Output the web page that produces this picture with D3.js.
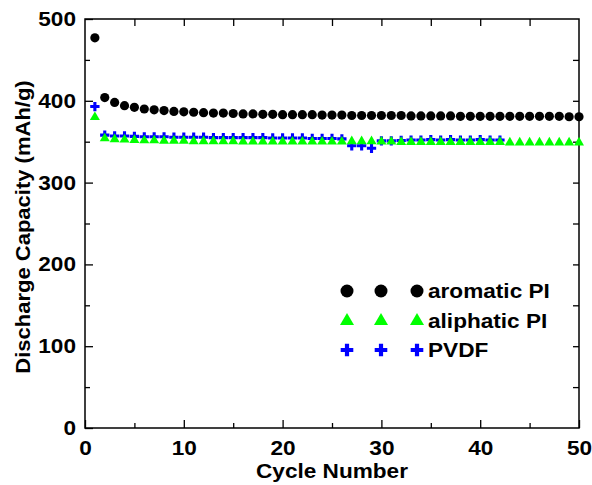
<!DOCTYPE html>
<html>
<head>
<meta charset="utf-8">
<script src="https://cdn.jsdelivr.net/npm/d3@7"></script>
<style>
  body { margin: 0; background: #fff; }
  text { font-family: "Liberation Sans", Arial, sans-serif; font-weight: bold; }
</style>
</head>
<body>
<svg id="chart" width="592" height="485"></svg>
<script>
// values
const aromatic = [477, 404, 398, 394, 392, 390, 389, 388, 387, 386.5,
  386, 385.5, 385, 385, 384.5, 384, 384, 383.5, 383.5, 383,
  383, 383, 383, 382.5, 382.5, 382.5, 382, 382, 382, 382,
  382, 382, 381.5, 381.5, 381.5, 381.5, 381.5, 381, 381, 381,
  381, 381, 381, 381, 381, 381, 381, 381, 380.5, 380.5];
const aliphatic = [380, 354, 353, 352.5, 352, 351.5, 351.5, 351, 351, 351,
  350.5, 350.5, 350.5, 350.5, 350.5, 350, 350, 350, 350, 350,
  350, 350, 350, 350, 350, 350, 350.5, 350.5, 350.5, 350,
  350, 349.5, 349.5, 349.5, 349.5, 349.5, 349.5, 349.5, 349.5, 349.5,
  349.5, 349.5, 349, 349, 349, 349, 349, 349, 349, 349];
const pvdf = [393, 358, 357, 357, 356.5, 356, 356, 356, 355.5, 355.5,
  355.5, 355.5, 355, 355, 355, 355, 355, 355, 354.5, 354.5,
  354.5, 354.5, 354, 354, 354, 353.5, 345, 345, 342, 351,
  351, 351.5, 352, 352, 352.5, 352, 352.5, 352, 352, 352.5,
  352, 352];
const seriesNames = ["aromatic PI", "aliphatic PI", "PVDF"];
const xTicks = [0, 10, 20, 30, 40, 50];
const yTicks = [0, 100, 200, 300, 400, 500];

const svg = d3.select("#chart");
const margin = {top: 19, right: 13, bottom: 57, left: 85};
const W = 592, H = 485;
const STRETCH = 1.13;
const fs = 20;

const x = d3.scaleLinear([0, 50], [margin.left, W - margin.right]);
const y = d3.scaleLinear([0, 500], [H - margin.bottom, margin.top]);

// widen text like the original; re-anchor at start so the position stays right
function widen(sel, stretch = STRETCH) {
  sel.each(function() {
    const t = d3.select(this);
    const len = this.getComputedTextLength();
    const target = len * stretch;
    const anchor = t.attr("text-anchor") || "start";
    const x0 = +(t.attr("x") || 0);
    let xs = x0;
    if (anchor === "middle") xs = x0 - target / 2;
    else if (anchor === "end") xs = x0 - target;
    t.attr("x", xs).attr("text-anchor", "start")
      .attr("textLength", target).attr("lengthAdjust", "spacingAndGlyphs");
  });
}

// minor ticks
svg.append("g").attr("transform", `translate(0,${y(0)})`)
  .call(d3.axisBottom(x).tickValues(d3.range(5, 50, 10)).tickSize(-5).tickFormat(""))
  .call(g => g.select(".domain").remove());
svg.append("g").attr("transform", `translate(0,${y(500)})`)
  .call(d3.axisTop(x).tickValues(d3.range(5, 50, 5)).tickSize(-7).tickFormat(""))
  .call(g => g.select(".domain").remove());
svg.append("g").attr("transform", `translate(${x(0)},0)`)
  .call(d3.axisLeft(y).tickValues(d3.range(50, 500, 100)).tickSize(-5).tickFormat(""))
  .call(g => g.select(".domain").remove());
svg.append("g").attr("transform", `translate(${x(50)},0)`)
  .call(d3.axisRight(y).tickValues(d3.range(50, 500, 50)).tickSize(-6).tickFormat(""))
  .call(g => g.select(".domain").remove());

// major axes
const gx = svg.append("g").attr("transform", `translate(0,${y(0)})`)
  .call(d3.axisBottom(x).tickValues(xTicks).tickSizeInner(-8).tickSizeOuter(0).tickPadding(13))
  .call(g => g.select(".domain").remove());
const gy = svg.append("g").attr("transform", `translate(${x(0)},0)`)
  .call(d3.axisLeft(y).tickValues(yTicks).tickSizeInner(-8).tickSizeOuter(0).tickPadding(9))
  .call(g => g.select(".domain").remove());
svg.selectAll(".tick line").attr("stroke", "#000").attr("stroke-width", 1.3);
gx.attr("text-anchor", null).selectAll("text").attr("text-anchor", "middle");
gy.attr("text-anchor", null).selectAll("text").attr("text-anchor", "end");
[gx, gy].forEach(g => g.attr("font-family", null).attr("font-size", null)
  .selectAll("text")
  .attr("font-size", fs).attr("fill", "#000")
  .call(widen));

// frame
svg.append("rect")
  .attr("x", x(0)).attr("y", y(500))
  .attr("width", x(50) - x(0)).attr("height", y(0) - y(500))
  .attr("fill", "none").attr("stroke", "#000").attr("stroke-width", 1.5);

// axis titles
svg.append("text")
  .attr("x", 332).attr("y", 478)
  .attr("text-anchor", "middle").attr("font-size", fs)
  .text("Cycle Number").call(widen);
svg.append("text")
  .attr("transform", `translate(30,227) rotate(-90)`)
  .attr("text-anchor", "middle").attr("font-size", fs)
  .text("Discharge Capacity (mAh/g)").call(widen, 1.1);

// markers
const circle = d3.symbol(d3.symbolCircle, Math.PI * 4.6 * 4.6);
const tri = d3.symbol(d3.symbolTriangle, 10 * 10 * Math.sqrt(3) / 4);
const cross = d3.symbol(d3.symbolCross, 5 * 3.1 * 3.1);

const plot = svg.append("g");
plot.selectAll(".aro").data(aromatic).join("path")
  .attr("d", circle).attr("fill", "#000")
  .attr("transform", (d, i) => `translate(${x(i + 1)},${y(d)})`);
plot.selectAll(".pv").data(pvdf).join("path")
  .attr("d", cross).attr("fill", "#0000ff")
  .attr("transform", (d, i) => `translate(${x(i + 1)},${y(d)})`);
plot.selectAll(".ali").data(aliphatic).join("path")
  .attr("d", tri).attr("fill", "#00ff00")
  .attr("transform", (d, i) => `translate(${x(i + 1)},${y(d)})`);

// legend
const legSymbols = [
  {sym: d3.symbol(d3.symbolCircle, Math.PI * 6.5 * 6.5)(), color: "#000"},
  {sym: d3.symbol(d3.symbolTriangle, 14 * 14 * Math.sqrt(3) / 4)(), color: "#00ff00"},
  {sym: d3.symbol(d3.symbolCross, 5 * 4.2 * 4.2)(), color: "#0000ff"}
];
const legRowsY = [291, 321, 350];
const legX = [347, 381, 417];
const leg = svg.append("g");
seriesNames.forEach((name, i) => {
  legX.forEach(lx => leg.append("path")
    .attr("d", legSymbols[i].sym).attr("fill", legSymbols[i].color)
    .attr("transform", `translate(${lx},${legRowsY[i]})`));
  leg.append("text")
    .attr("x", 428).attr("y", legRowsY[i] + 7)
    .attr("font-size", fs).text(name).call(widen);
});
</script>
</body>
</html>
